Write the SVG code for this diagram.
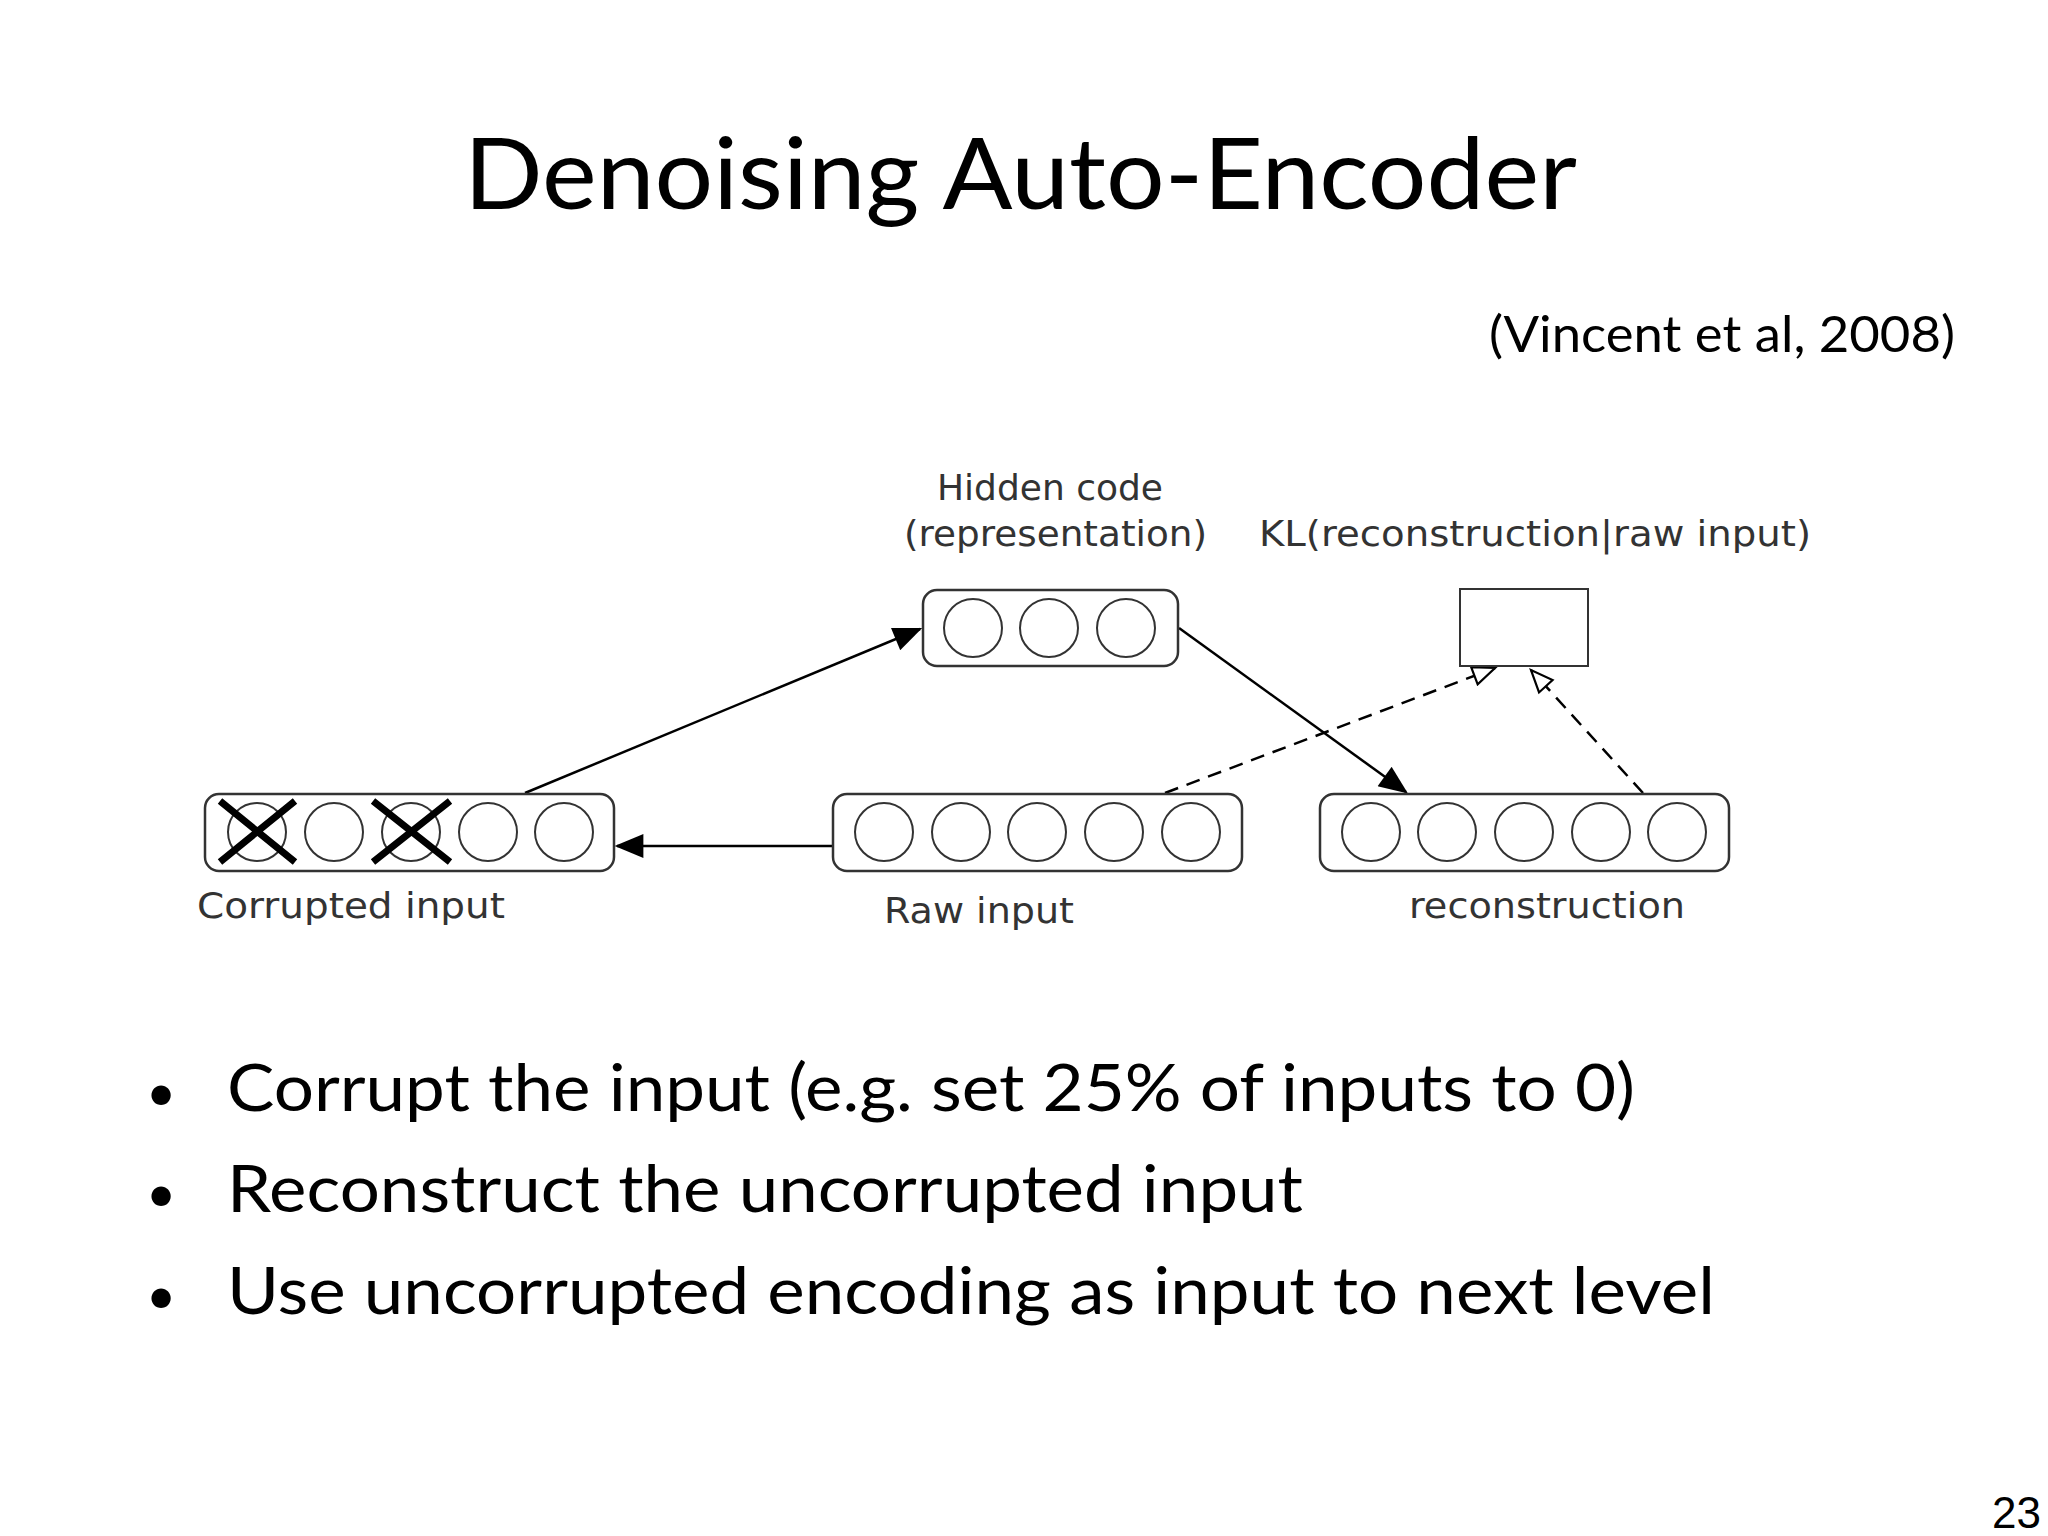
<svg xmlns="http://www.w3.org/2000/svg" width="2048" height="1536" viewBox="0 0 2048 1536">
<style>
.t{font-family:Lato,"Open Sans",sans-serif;fill:#000}
.d{font-family:"DejaVu Sans","Liberation Sans",sans-serif;fill:#333;font-size:36px}
.box{fill:#fff;stroke:#333;stroke-width:2.5}
.c{fill:#fff;stroke:#333;stroke-width:2}
.e{stroke:#000;stroke-width:2.5;fill:none}
.dash{stroke:#000;stroke-width:2.5;fill:none;stroke-dasharray:14 9}
.x{stroke:#000;stroke-width:7}
</style>
<defs>
<marker id="o" viewBox="0 0 14 12" markerWidth="28" markerHeight="22" refX="13" refY="6" orient="auto" markerUnits="userSpaceOnUse"><path d="M1,1 L13,6 L1,11 Z" fill="#fff" stroke="#000" stroke-width="1.2"/></marker>
<marker id="a2" viewBox="0 0 12 10" markerWidth="30" markerHeight="24" refX="11" refY="5" orient="auto" markerUnits="userSpaceOnUse"><path d="M0,0 L12,5 L0,10 Z" fill="#000"/></marker>
</defs>
<rect width="2048" height="1536" fill="#fff"/>
<text class="t" x="464" y="209" font-size="98" textLength="1113" lengthAdjust="spacingAndGlyphs">Denoising Auto-Encoder</text>
<text class="t" x="1489" y="352" font-size="50" textLength="466" lengthAdjust="spacingAndGlyphs" fill="#222">(Vincent et al, 2008)</text>
<g id="connectors">
<line class="e" x1="525" y1="793" x2="920" y2="629" marker-end="url(#a2)"/>
<line class="e" x1="1179" y1="628" x2="1406" y2="792" marker-end="url(#a2)"/>
<line class="e" x1="833" y1="846" x2="617" y2="846" marker-end="url(#a2)"/>
<line class="dash" x1="1165" y1="793" x2="1495" y2="668" marker-end="url(#o)"/>
<line class="dash" x1="1643" y1="793" x2="1531" y2="670" marker-end="url(#o)"/>
</g>
<g id="hidden">
<rect class="box" x="923" y="590" width="255" height="76" rx="14"/>
<circle class="c" cx="973" cy="628" r="29"/><circle class="c" cx="1049" cy="628" r="29"/><circle class="c" cx="1126" cy="628" r="29"/>
<text class="d" x="1050" y="500" text-anchor="middle">Hidden code</text>
<text class="d" x="904" y="546" textLength="303" lengthAdjust="spacingAndGlyphs">(representation)</text>
</g>
<g id="kl">
<rect x="1460" y="589" width="128" height="77" fill="#fff" stroke="#333" stroke-width="2"/>
<text class="d" x="1259" y="546" textLength="552" lengthAdjust="spacingAndGlyphs">KL(reconstruction|raw input)</text>
</g>
<g id="corrupted">
<rect class="box" x="205" y="794" width="409" height="77" rx="14"/>
<circle class="c" cx="257" cy="832" r="29"/><circle class="c" cx="334" cy="832" r="29"/><circle class="c" cx="411" cy="832" r="29"/><circle class="c" cx="488" cy="832" r="29"/><circle class="c" cx="564" cy="832" r="29"/>
<path class="x" d="M220,801 L295,862 M295,801 L220,862 M373,801 L450,862 M450,801 L373,862"/>
<text class="d" x="197" y="918" textLength="308" lengthAdjust="spacingAndGlyphs">Corrupted input</text>
</g>
<g id="raw">
<rect class="box" x="833" y="794" width="409" height="77" rx="14"/>
<circle class="c" cx="884" cy="832" r="29"/><circle class="c" cx="961" cy="832" r="29"/><circle class="c" cx="1037" cy="832" r="29"/><circle class="c" cx="1114" cy="832" r="29"/><circle class="c" cx="1191" cy="832" r="29"/>
<text class="d" x="884" y="923" textLength="190" lengthAdjust="spacingAndGlyphs">Raw input</text>
</g>
<g id="reconstruction">
<rect class="box" x="1320" y="794" width="409" height="77" rx="14"/>
<circle class="c" cx="1371" cy="832" r="29"/><circle class="c" cx="1447" cy="832" r="29"/><circle class="c" cx="1524" cy="832" r="29"/><circle class="c" cx="1601" cy="832" r="29"/><circle class="c" cx="1677" cy="832" r="29"/>
<text class="d" x="1409" y="918" textLength="276" lengthAdjust="spacingAndGlyphs">reconstruction</text>
</g>
<g class="t" font-size="66">
<text x="146" y="1111" font-size="52">•</text><text x="227" y="1111" textLength="1408" lengthAdjust="spacingAndGlyphs">Corrupt the input (e.g. set 25% of inputs to 0)</text>
<text x="146" y="1212" font-size="52">•</text><text x="227" y="1212" textLength="1076" lengthAdjust="spacingAndGlyphs">Reconstruct the uncorrupted input</text>
<text x="146" y="1314" font-size="52">•</text><text x="227" y="1314" textLength="1488" lengthAdjust="spacingAndGlyphs">Use uncorrupted encoding as input to next level</text>
</g>
<text x="2041" y="1528" font-family="Liberation Sans,sans-serif" font-size="44" text-anchor="end">23</text>
</svg>
